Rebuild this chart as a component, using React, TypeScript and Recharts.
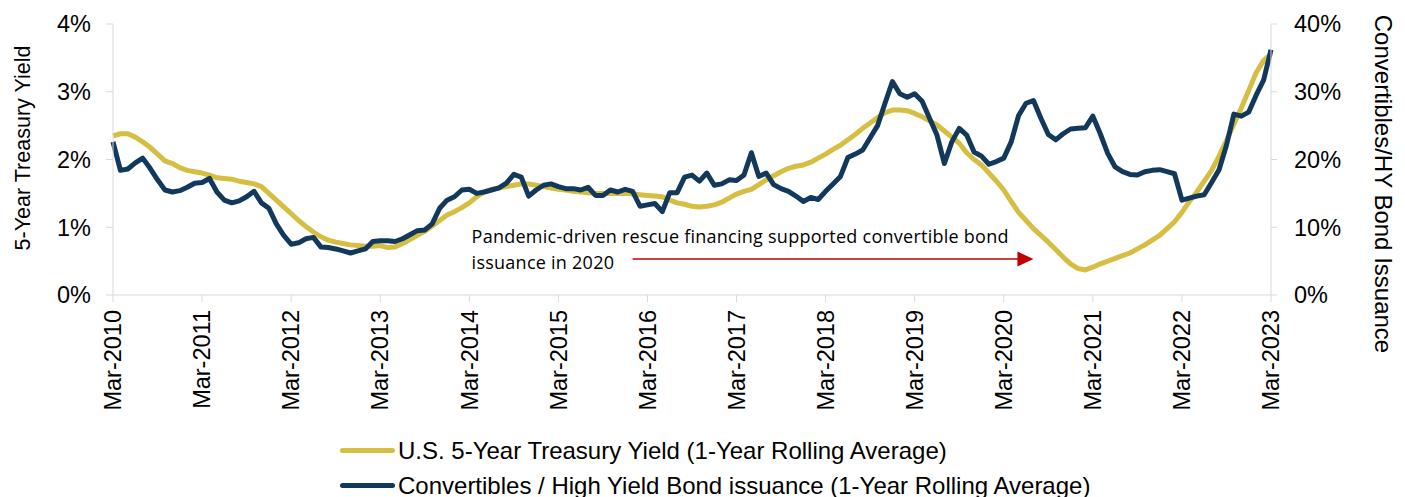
import React from "react";
import { LineChart, Line, XAxis, YAxis, Legend, ReferenceLine } from "recharts";

const MONTHS = ["Jan", "Feb", "Mar", "Apr", "May", "Jun", "Jul", "Aug", "Sep", "Oct", "Nov", "Dec"];

// Mar-2010 .. Mar-2023, monthly
const dates: string[] = [];
for (let y = 2010; y <= 2023; y++) {
  for (let m = 0; m < 12; m++) {
    if ((y === 2010 && m < 2) || (y === 2023 && m > 2)) continue;
    dates.push(`${MONTHS[m]}-${y}`);
  }
}

// U.S. 5-Year Treasury Yield, 1-yr rolling avg (%), left axis
const treasuryYield = [
  2.35, 2.38, 2.38, 2.33, 2.26, 2.18, 2.08, 1.98, 1.94, 1.88, 1.84, 1.82,
  1.80, 1.77, 1.73, 1.72, 1.71, 1.68, 1.66, 1.64, 1.60, 1.50, 1.40, 1.30,
  1.20, 1.10, 1.01, 0.93, 0.86, 0.81, 0.78, 0.76, 0.74, 0.73, 0.72, 0.72,
  0.73, 0.70, 0.71, 0.76, 0.82, 0.88, 0.94, 1.02, 1.10, 1.18, 1.23, 1.29,
  1.36, 1.45, 1.52, 1.56, 1.58, 1.60, 1.62, 1.64, 1.64, 1.62, 1.60, 1.58,
  1.56, 1.55, 1.53, 1.52, 1.51, 1.50, 1.50, 1.50, 1.50, 1.50, 1.49, 1.48,
  1.47, 1.46, 1.45, 1.40, 1.36, 1.34, 1.31, 1.30, 1.31, 1.33, 1.37, 1.43,
  1.49, 1.53, 1.56, 1.63, 1.70, 1.76, 1.82, 1.87, 1.90, 1.92, 1.96, 2.02,
  2.08, 2.15, 2.21, 2.29, 2.37, 2.46, 2.54, 2.62, 2.69, 2.73, 2.73, 2.72,
  2.68, 2.63, 2.57, 2.51, 2.42, 2.33, 2.24, 2.10, 2.00, 1.92, 1.80, 1.68,
  1.55, 1.38, 1.22, 1.10, 0.98, 0.88, 0.78, 0.67, 0.56, 0.46, 0.39, 0.37,
  0.41, 0.46, 0.50, 0.54, 0.58, 0.62, 0.68, 0.74, 0.81, 0.88, 0.98, 1.08,
  1.22, 1.38, 1.52, 1.68, 1.84, 2.05, 2.28, 2.52, 2.76, 3.02, 3.28, 3.46,
  3.56,
];

// Convertibles / HY bond issuance, 1-yr rolling avg (%), right axis
const convToHy = [
  22.6, 18.4, 18.6, 19.5, 20.2, 18.7, 17.0, 15.5, 15.2, 15.4, 15.9, 16.5,
  16.6, 17.2, 15.2, 14.0, 13.6, 13.9, 14.5, 15.3, 13.6, 12.8, 10.5, 8.8,
  7.5, 7.7, 8.3, 8.5, 7.1, 7.0, 6.8, 6.5, 6.2, 6.5, 6.8, 7.9,
  8.0, 8.0, 7.9, 8.3, 8.9, 9.5, 9.6, 10.5, 12.8, 14.0, 14.5, 15.5,
  15.6, 15.0, 15.2, 15.5, 15.8, 16.5, 17.8, 17.4, 14.6, 15.5, 16.2, 16.4,
  16.0, 15.7, 15.7, 15.5, 15.9, 14.7, 14.7, 15.5, 15.2, 15.6, 15.3, 13.1,
  13.3, 13.5, 12.3, 15.1, 15.1, 17.4, 17.7, 16.8, 18.0, 16.2, 16.4, 17.0,
  16.9, 17.7, 21.0, 17.5, 18.0, 16.3, 15.7, 15.3, 14.6, 13.8, 14.4, 14.1,
  15.3, 16.4, 17.5, 20.3, 20.8, 21.4, 23.2, 25.0, 28.3, 31.5, 29.7, 29.2,
  29.7, 28.6, 26.1, 23.6, 19.4, 22.6, 24.6, 23.6, 21.1, 20.5, 19.3, 19.7,
  20.2, 22.6, 26.5, 28.3, 28.7, 26.1, 23.7, 22.9, 23.8, 24.5, 24.6, 24.7,
  26.4, 23.8, 20.9, 18.9, 18.2, 17.8, 17.7, 18.2, 18.4, 18.5, 18.2, 17.9,
  14.0, 14.3, 14.6, 14.8, 16.6, 18.5, 22.1, 26.7, 26.4, 27.0, 29.5, 31.7,
  36.2,
];

const leftTicks = [0, 1, 2, 3, 4];
const rightTicks = [0, 10, 20, 30, 40];

const seriesNames = [
  "U.S. 5-Year Treasury Yield (1-Year Rolling Average)",
  "Convertibles / High Yield Bond issuance (1-Year Rolling Average)",
];

const annotationLines = [
  "Pandemic-driven rescue financing supported convertible bond",
  "issuance in 2020",
];

const data = dates.map((d, i) => ({ date: d, yield: treasuryYield[i], conv: convToHy[i] }));

const GOLD = "#D6BE42";
const NAVY = "#12395C";
const seriesColors = [GOLD, NAVY];
const AXIS = "#d9d9d9";
const FONT = "'Liberation Sans', Arial, sans-serif";
const NOTE_FONT = "'Open Sans', sans-serif";

function XTick(props: any) {
  const { x, y, payload } = props;
  return (
    <text x={x} y={y} dy="0.35em" transform={`rotate(-90, ${x}, ${y})`} textAnchor="end"
      fontSize={23.5} fontFamily={FONT} fill="#000">
      {payload.value}
    </text>
  );
}

function ArrowNote(props: any) {
  const { x1, y1, x2 } = props;
  return (
    <g>
      <text x={x1 - 161} y={y1 - 16} fontSize={18} letterSpacing={0.25} fontFamily={NOTE_FONT} fill="#000">
        {annotationLines[0]}
      </text>
      <text x={x1 - 161} y={y1 + 10} fontSize={18} letterSpacing={0.25} fontFamily={NOTE_FONT} fill="#000">
        {annotationLines[1]}
      </text>
      <line x1={x1} y1={y1} x2={x2 - 14} y2={y1} stroke="#C00000" strokeWidth={1.5} />
      <polygon points={`${x2 - 16},${y1 - 7.5} ${x2},${y1} ${x2 - 16},${y1 + 7.5}`} fill="#C00000" />
    </g>
  );
}

function LegendBox() {
  return (
    <div style={{ height: 77, width: 1405, position: "relative", fontFamily: FONT, fontSize: 24 }}>
      {seriesNames.map((name, i) => (
        <div key={name} style={{ position: "absolute", left: 340, top: 13 + i * 35, height: 35, display: "flex", alignItems: "center" }}>
          <span style={{ display: "inline-block", width: 55, height: 5, borderRadius: 3, background: seriesColors[i] }} />
          <span style={{ marginLeft: 3, color: "#000", whiteSpace: "nowrap" }}>{name}</span>
        </div>
      ))}
    </div>
  );
}

export default function App() {
  return (
    <div style={{ position: "absolute", left: 0, top: 0 }}>
      <LineChart width={1405} height={497} data={data} margin={{ top: 24, right: 0, bottom: 0, left: 0 }}>
        <XAxis dataKey="date" interval={11} height={125} tickSize={7} tickMargin={8}
          axisLine={{ stroke: AXIS }} tickLine={{ stroke: AXIS }} tick={<XTick />} />
        <YAxis yAxisId="left" domain={[0, 4]} ticks={leftTicks} width={113} tickSize={7} tickMargin={15}
          tickFormatter={(v) => `${v}%`} axisLine={{ stroke: AXIS }} tickLine={{ stroke: AXIS }}
          tick={{ fontSize: 23.5, fill: "#000", fontFamily: FONT }}
          label={{
            content: () => (
              <text x={30} y={148} transform="rotate(-90, 30, 148)" textAnchor="middle"
                fontSize={21.5} fontFamily={FONT} fill="#000">5-Year Treasury Yield</text>
            ),
          }} />
        <YAxis yAxisId="right" orientation="right" domain={[0, 40]} ticks={rightTicks} width={134} tickSize={6}
          tickMargin={17} tickFormatter={(v) => `${v}%`} axisLine={{ stroke: AXIS }} tickLine={{ stroke: AXIS }}
          tick={{ fontSize: 23.5, fill: "#000", fontFamily: FONT }}
          label={{
            content: () => (
              <text x={1375} y={184} transform="rotate(90, 1375, 184)" textAnchor="middle"
                fontSize={24} fontFamily={FONT} fill="#000">Convertibles/HY Bond Issuance</text>
            ),
          }} />
        <ReferenceLine yAxisId="left" ifOverflow="visible"
          segment={[{ x: dates[70], y: 0.53 }, { x: dates[124], y: 0.53 }]} shape={ArrowNote} />
        <Line yAxisId="left" type="linear" dataKey="yield" name={seriesNames[0]} stroke={GOLD} strokeWidth={5}
          dot={false} strokeLinejoin="round" isAnimationActive={false} />
        <Line yAxisId="right" type="linear" dataKey="conv" name={seriesNames[1]} stroke={NAVY} strokeWidth={5}
          dot={false} strokeLinejoin="round" isAnimationActive={false} />
        <Legend verticalAlign="bottom" layout="vertical" align="center" content={LegendBox}
          wrapperStyle={{ left: 0, width: 1405 }} />
      </LineChart>
    </div>
  );
}
